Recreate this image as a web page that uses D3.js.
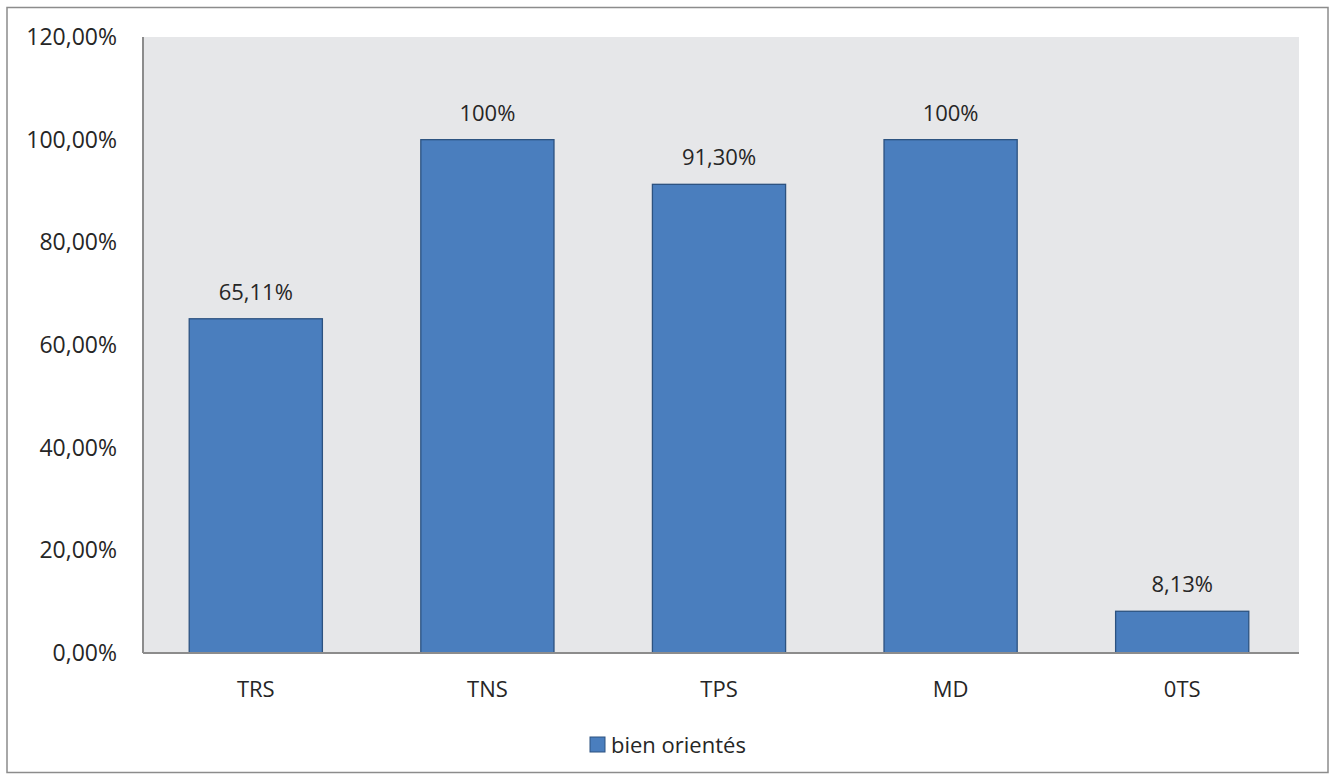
<!DOCTYPE html>
<html><head><meta charset="utf-8">
<script src="https://cdn.jsdelivr.net/npm/d3@7"></script>
<style>body{margin:0;background:#fff;} text{font-family:"Open Sans","Liberation Sans",sans-serif;fill:#262626;}</style>
</head><body><svg id="c" width="1335" height="780"></svg>
<script>
const categories = ["TRS","TNS","TPS","MD","0TS"];
const values = [65.11, 100, 91.30, 100, 8.13];
const valueLabels = ["65,11%","100%","91,30%","100%","8,13%"];
const yTicks = [0,20,40,60,80,100,120];
const yTickLabels = ["0,00%","20,00%","40,00%","60,00%","80,00%","100,00%","120,00%"];
const seriesName = "bien orientés";

const svg = d3.select("#c");
svg.append("rect").attr("x",7).attr("y",7.5).attr("width",1321).attr("height",765)
  .attr("fill","#fff").attr("stroke","#8c8c8c").attr("stroke-width",1.5);

const L=143, R=1299, T=37, B=653;
svg.append("rect").attr("x",L).attr("y",T).attr("width",R-L).attr("height",B-T).attr("fill","#e6e7e9");

const x = d3.scaleBand().domain(categories).range([L-3,R-1]).paddingInner(0.425).paddingOuter(0.2125);
const y = d3.scaleLinear().domain([0,120]).range([B,T]);

svg.selectAll(".bar").data(values).enter().append("rect")
  .attr("x",(d,i)=>x(categories[i])).attr("y",d=>y(d))
  .attr("width",x.bandwidth()).attr("height",d=>B-y(d))
  .attr("fill","#4a7ebe").attr("stroke","#2c5280").attr("stroke-width",1.3);

svg.selectAll(".vl").data(values).enter().append("text")
  .attr("x",(d,i)=>x(categories[i])+x.bandwidth()/2).attr("y",d=>y(d)-19)
  .attr("text-anchor","middle").attr("font-size",22).text((d,i)=>valueLabels[i]);

svg.append("line").attr("x1",L).attr("x2",L).attr("y1",T).attr("y2",B).attr("stroke","#8c8c8c").attr("stroke-width",2);
svg.append("line").attr("x1",L).attr("x2",R).attr("y1",B).attr("y2",B).attr("stroke","#8c8c8c").attr("stroke-width",2);

svg.selectAll(".yt").data(yTicks).enter().append("text")
  .attr("x",117).attr("y",d=>y(d)+8).attr("text-anchor","end").attr("font-size",23)
  .text((d,i)=>yTickLabels[i]);

svg.selectAll(".xt").data(categories).enter().append("text")
  .attr("x",d=>x(d)+x.bandwidth()/2).attr("y",697).attr("text-anchor","middle").attr("font-size",22)
  .text(d=>d);

svg.append("rect").attr("x",590).attr("y",737).attr("width",15).attr("height",15)
  .attr("fill","#4a7ebe").attr("stroke","#2c5280").attr("stroke-width",1);
svg.append("text").attr("x",611).attr("y",753).attr("font-size",22).text(seriesName);
</script></body></html>
